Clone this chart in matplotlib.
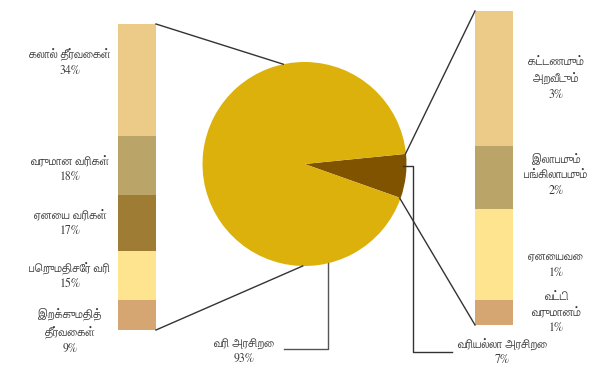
import numpy as np
import matplotlib
matplotlib.use("Agg")
import matplotlib.pyplot as plt

# revenue split (pie)
pie_labels = ["வரி அரசிறை", "வரியல்லா அரசிறை"]
pie_values = [93, 7]
pie_pct = ["93%", "7%"]

# tax revenue breakdown (left bar), top to bottom
tax_labels = ["கலால் தீர்வைகள்", "வருமான வரிகள்", "ஏனைய வரிகள்",
              "பெறுமதிசேர் வரி", "இறக்குமதித்\nதீர்வைகள்"]
tax_values = [34, 18, 17, 15, 9]

# non-tax revenue breakdown (right bar), top to bottom; bar heights
nontax_labels = ["கட்டணமும்\nஅறவீடும்", "இலாபமும்\nபங்கிலாபமும்", "ஏனையவை", "வட்டி\nவருமானம்"]
nontax_values = [43, 20, 29, 8]
nontax_pct = ["3%", "2%", "1%", "1%"]

tax_colors = ["#ECCA88", "#BBA467", "#9E7C33", "#FEE48E", "#D5A572"]
nontax_colors = ["#ECCA88", "#BBA467", "#FEE48E", "#D5A572"]
pie_colors = ["#DDB10B", "#7F5300"]

plt.rcParams["font.family"] = ["FreeSerif", "DejaVu Serif"]
txt = "#3a3a3a"
line = "#333333"
fs = 8.5

W, H = 603, 365
fig = plt.figure(figsize=(W / 100, H / 100), dpi=100)
ax = fig.add_axes([0, 0, 1, 1])

# pie (pixel coordinates, y measured from bottom)
cx, cy, r = 304.5, H - 164, 102
start = -19.5
wedges, _ = ax.pie(pie_values[::-1], colors=pie_colors[::-1], startangle=start,
                   center=(cx, cy), radius=r, wedgeprops=dict(linewidth=0))
small = wedges[0]


def on_circle(deg):
    a = np.deg2rad(deg)
    return cx + r * np.cos(a), cy + r * np.sin(a)


# left stacked bar
lx, bw = 137, 38
l_top, l_bot = H - 24, H - 330
lscale = (l_top - l_bot) / sum(tax_values)
bottoms = l_top - np.cumsum(tax_values) * lscale
ax.bar([lx] * len(tax_values), np.array(tax_values) * lscale, width=bw,
       bottom=bottoms, color=tax_colors, linewidth=0)
label_shift = [18, -4, 0, 0, -16]
for lab, v, b, c, s in zip(tax_labels, tax_values, bottoms, tax_colors, label_shift):
    ax.text(70, b + v * lscale / 2 + s, f"{lab}\n{v}%", ha="center", va="center",
            fontsize=fs, color=txt, linespacing=1.45)

# right stacked bar
rx = 494
r_top, r_bot = H - 11, H - 325
rscale = (r_top - r_bot) / sum(nontax_values)
rbottoms = r_top - np.cumsum(nontax_values) * rscale
ax.bar([rx] * len(nontax_values), np.array(nontax_values) * rscale, width=bw,
       bottom=rbottoms, color=nontax_colors, linewidth=0)
rshift = [0, 2, -11, 0]
for lab, v, b, p, s in zip(nontax_labels, nontax_values, rbottoms, nontax_pct, rshift):
    ax.text(556, b + v * rscale / 2 + s, f"{lab}\n{p}", ha="center", va="center",
            fontsize=fs, color=txt, linespacing=1.45)

# connectors between pie and bars
px, py = on_circle(102)
ax.plot([lx + bw / 2, px], [l_top, py], color=line, lw=1)
px, py = on_circle(-91)
ax.plot([lx + bw / 2, px], [l_bot, py], color=line, lw=1)
px, py = on_circle(small.theta2)
ax.plot([rx - bw / 2, px * 0.995 + cx * 0.005], [r_top, py], color=line, lw=1)
px, py = on_circle(small.theta1)
ax.plot([rx - bw / 2, px - 1], [r_bot, py], color=line, lw=1)

# label leaders
x93 = 328
y_arc = cy - np.sqrt(r ** 2 - (x93 - cx) ** 2)
ax.plot([284, x93, x93], [H - 349, H - 349, y_arc], color="#555555", lw=1)
ax.text(244, H - 352, f"{pie_labels[0]}\n{pie_pct[0]}", ha="center", va="center",
        fontsize=fs, color=txt, linespacing=1.35)

y7 = H - 166
x_arc = cx + np.sqrt(r ** 2 - (y7 - cy) ** 2) - 3
ax.plot([x_arc, 413, 413, 452], [y7, y7, H - 352, H - 352], color=line, lw=1)
ax.text(502, H - 352, f"{pie_labels[1]}\n{pie_pct[1]}", ha="center", va="center",
        fontsize=fs, color=txt, linespacing=1.35)

ax.set_xlim(0, W)
ax.set_ylim(0, H)
ax.set_aspect("equal")
ax.axis("off")

fig.savefig("out.png", dpi=100)
